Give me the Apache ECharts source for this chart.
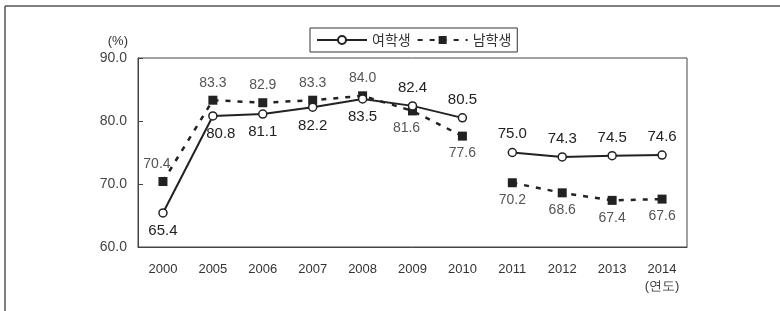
<!DOCTYPE html>
<html>
<head>
<meta charset="utf-8">
<script src="https://cdn.jsdelivr.net/npm/echarts@6/dist/echarts.min.js"></script>
<style>
  html, body { margin: 0; padding: 0; background: #fff; }
  #chart { width: 780px; height: 311px; }
</style>
</head>
<body>
<div id="chart"></div>
<script>
// 연도
var years = ['2000', '2005', '2006', '2007', '2008', '2009', '2010', '2011', '2012', '2013', '2014']
var female = [65.4, 80.8, 81.1, 82.2, 83.5, 82.4, 80.5, 75.0, 74.3, 74.5, 74.6]
var male = [70.4, 83.3, 82.9, 83.3, 84.0, 81.6, 77.6, 70.2, 68.6, 67.4, 67.6]
var yTicks = [60, 70, 80, 90]
// the series is broken between 2010 and 2011
var breakAt = 7

var femaleLabelPos = ['bottom', 'bottom', 'bottom', 'bottom', 'bottom', 'top', 'top', 'top', 'top', 'top', 'top']
var maleLabelPos = ['top', 'top', 'top', 'top', 'top', 'bottom', 'bottom', 'bottom', 'bottom', 'bottom', 'bottom']

function part (vals, posList, first) {
  return vals.map(function (v, i) {
    var inPart = first ? i < breakAt : i >= breakAt
    if (!inPart) return '-'
    var item = { value: v, label: { position: posList[i] } }
    if (first && i === 1 && vals === female) item.label.offset = [8, 0]
    if (first && i === 0 && vals === male) item.label.offset = [-6, 0]
    if (first && i === 5 && vals === male) item.label.offset = [-6, 0]
    return item
  })
}

var chart = echarts.init(document.getElementById('chart'))

var femaleStyle = {
  type: 'line',
  name: '여학생',
  symbol: 'circle',
  symbolSize: 8,
  lineStyle: { color: '#222', width: 2, type: 'solid' },
  itemStyle: { color: '#fff', borderColor: '#222', borderWidth: 1.5 },
  label: {
    show: true, color: '#222', fontSize: 15, distance: 6,
    fontFamily: 'Liberation Sans', formatter: function (p) { return p.value.toFixed(1) }
  },
  z: 3
}
var maleStyle = {
  type: 'line',
  name: '남학생',
  symbol: 'rect',
  symbolSize: 9,
  lineStyle: { color: '#222', width: 2.5, type: [5, 7] },
  itemStyle: { color: '#222', borderWidth: 0 },
  label: {
    show: true, color: '#555', fontSize: 14, distance: 6,
    fontFamily: 'Liberation Sans', formatter: function (p) { return p.value.toFixed(1) }
  },
  z: 2
}

var option = {
  animation: false,
  textStyle: { fontFamily: 'Liberation Sans' },
  grid: {
    left: 138, right: 93, top: 58, bottom: 64,
    show: true, borderColor: '#444', borderWidth: 1
  },
  legend: {
    data: ['여학생', '남학생'],
    left: 310, top: 28,
    padding: [5, 6],
    itemWidth: 50, itemHeight: 10, itemGap: 6,
    borderColor: '#333', borderWidth: 1,
    textStyle: { fontSize: 14, color: '#333', fontFamily: 'Noto Sans CJK KR' }
  },
  xAxis: {
    type: 'category',
    data: years,
    boundaryGap: true,
    axisLine: { lineStyle: { color: '#444', width: 1 } },
    axisTick: { inside: true, length: 4, lineStyle: { color: '#444' } },
    axisLabel: {
      color: '#333', fontSize: 13, margin: 14, lineHeight: 17,
      formatter: function (v) { return v === '2014' ? v + '\n(연도)' : v }
    }
  },
  yAxis: {
    type: 'value',
    min: yTicks[0], max: yTicks[yTicks.length - 1], interval: 10,
    name: '(%)',
    nameGap: 10,
    nameTextStyle: { color: '#333', fontSize: 13, align: 'right', padding: [0, 10, 0, 0] },
    axisLine: { show: true, lineStyle: { color: '#444', width: 1 } },
    axisTick: { show: true, inside: true, length: 5, lineStyle: { color: '#444' } },
    splitLine: { show: false },
    axisLabel: {
      color: '#444', fontSize: 14, margin: 11,
      formatter: function (v) { return v.toFixed(1) }
    }
  },
  graphic: [
    { type: 'line', shape: { x1: 5, y1: 6, x2: 5, y2: 311 }, style: { stroke: '#555', lineWidth: 1.5 } },
    { type: 'line', shape: { x1: 5, y1: 6, x2: 780, y2: 6 }, style: { stroke: '#555', lineWidth: 1.5 } }
  ],
  series: [
    Object.assign({}, femaleStyle, { data: part(female, femaleLabelPos, true) }),
    Object.assign({}, femaleStyle, { data: part(female, femaleLabelPos, false) }),
    Object.assign({}, maleStyle, { data: part(male, maleLabelPos, true) }),
    Object.assign({}, maleStyle, { data: part(male, maleLabelPos, false) })
  ]
}
chart.setOption(option)
</script>
</body>
</html>
